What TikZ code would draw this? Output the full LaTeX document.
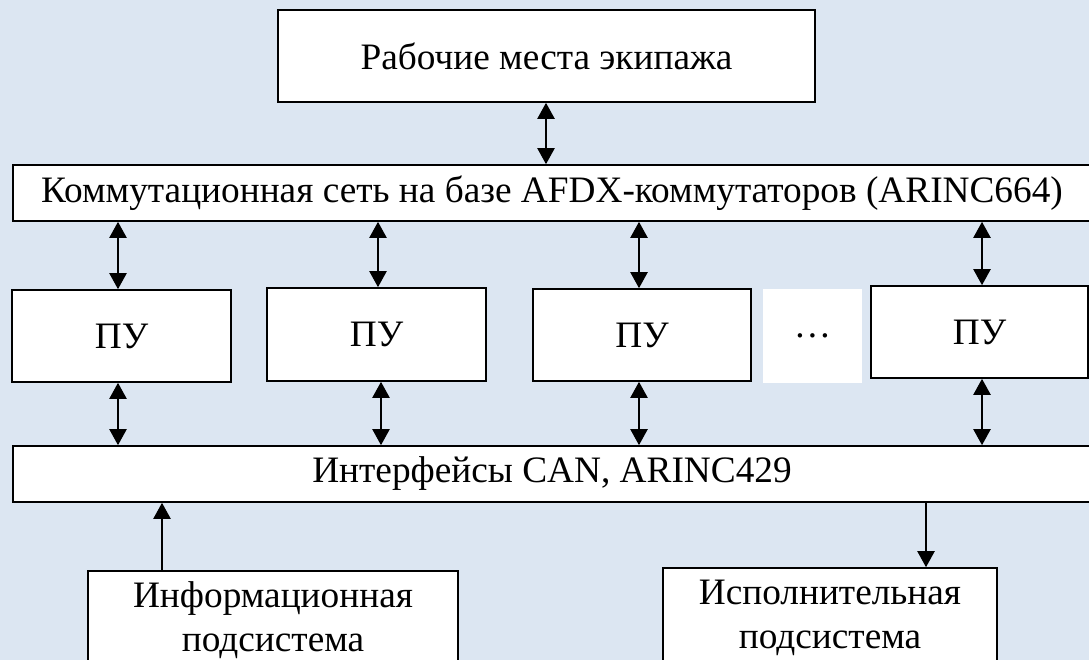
\documentclass[tikz,border=0pt]{standalone}
\usepackage{fontspec}
\setmainfont{Liberation Serif}
\usetikzlibrary{arrows.meta}
\definecolor{bgblue}{RGB}{220,230,242}
\tikzset{
  blk/.style={draw=black, fill=white, line width=1.6pt, inner sep=0pt,
    align=center, font=\fontsize{37.3}{44}\selectfont},
  gap/.style={fill=white, inner sep=0pt, font=\fontsize{37.3}{44}\selectfont},
  tip/.tip={Triangle[width=17pt,length=16pt]},
  link/.style={line width=2.2pt, tip-tip},
  oneway/.style={line width=2.2pt, -tip}
}
\begin{document}
\begin{tikzpicture}[x=1pt,y=-1pt]
\useasboundingbox (0,0) rectangle (1089,660);
\clip (0,0) rectangle (1089,660);
\fill[bgblue] (0,0) rectangle (1089,660);

% crew workstations and the switched network
\node[blk, minimum width=537pt, minimum height=92pt] (crew) at (546.5,56) {Рабочие места экипажа};
\node[blk, minimum width=1078pt, minimum height=56pt] (net) at (552,193)
  {Коммутационная сеть на базе AFDX-коммутаторов (ARINC664)};

% processing units
\node[blk, minimum width=219pt, minimum height=92pt] (pu1) at (121.5,336) {ПУ};
\node[blk, minimum width=219pt, minimum height=93pt] (pu2) at (376.5,334.5) {ПУ};
\node[blk, minimum width=218pt, minimum height=92pt] (pu3) at (642,335) {ПУ};
\node[gap, minimum width=99pt, minimum height=94pt] (dots) at (812.5,336) {…};
\node[blk, minimum width=217pt, minimum height=92pt] (pu4) at (979.5,332) {ПУ};

% interface bus
\node[blk, minimum width=1078pt, minimum height=56pt] (bus) at (552,474) {Интерфейсы CAN, ARINC429};

% subsystems
\node[blk, minimum width=370pt, minimum height=98pt] (info) at (273,620)
  {Информационная\\подсистема};
\node[blk, minimum width=334pt, minimum height=100pt] (exec) at (830,618)
  {Исполнительная\\подсистема};

% connections
\draw[link] (crew.south -| 546,0) -- (net.north -| 546,0);
\foreach \p/\xa/\xb in {pu1/118/118, pu2/378/381, pu3/639/639, pu4/982/982}{
  \draw[link] (net.south -| \xa,0) -- (\p.north -| \xa,0);
  \draw[link] (\p.south -| \xb,0) -- (bus.north -| \xb,0);
}
\draw[oneway] (info.north -| 162,0) -- (bus.south -| 162,0);
\draw[oneway] (bus.south -| 926,0) -- (exec.north -| 926,0);
\end{tikzpicture}
\end{document}
